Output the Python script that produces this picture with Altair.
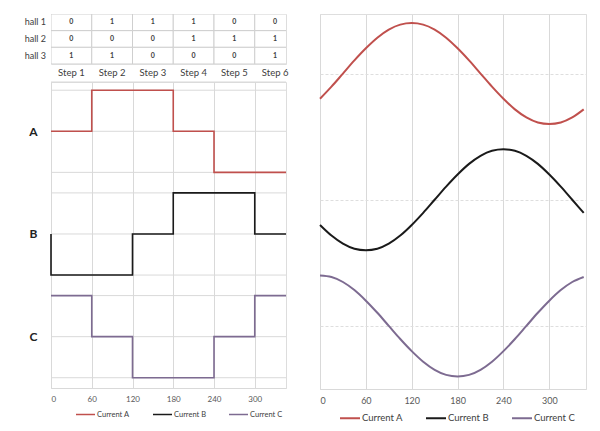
import altair as alt
import pandas as pd

# ---------------- data ----------------
halls = ["hall 1", "hall 2", "hall 3"]
hall1 = [0, 1, 1, 1, 0, 0]
hall2 = [0, 0, 0, 1, 1, 1]
hall3 = [1, 1, 0, 0, 0, 1]
steps = ["Step 1", "Step 2", "Step 3", "Step 4", "Step 5", "Step 6"]
STEP_DEG = 60

series = ["Current A", "Current B", "Current C"]
colors = ["#c0504d", "#1a1a1a", "#7d6b91"]

# left: six-step waveforms (change points in degrees, level after change)
a_x = [0, 60, 180, 240, 346]
a_y = [12, 14, 12, 10, 10]
b_x = [0, 0, 120, 180, 300, 346]
b_y = [7, 5, 7, 9, 7, 7]
c_x = [0, 60, 120, 240, 300, 346]
c_y = [4, 2, 0, 2, 4, 4]
row_names = ["A", "B", "C"]
row_mid = [12, 7, 2]
left_levels = [0, 2, 4, 5, 7, 9, 10, 12, 14, 14.4]

# right: sinusoidal currents read every 15 degrees
angles = [0, 15, 30, 45, 60, 75, 90, 105, 120, 135, 150, 165,
          180, 195, 210, 225, 240, 255, 270, 285, 300, 315, 330, 345]
ia = [4.5, 4.74, 5.0, 5.26, 5.5, 5.71, 5.87, 5.97, 6.0, 5.97, 5.87, 5.71,
      5.5, 5.26, 5.0, 4.74, 4.5, 4.29, 4.13, 4.03, 4.0, 4.03, 4.13, 4.29]
ib = [2.0, 1.79, 1.63, 1.53, 1.5, 1.53, 1.63, 1.79, 2.0, 2.24, 2.5, 2.76,
      3.0, 3.21, 3.37, 3.47, 3.5, 3.47, 3.37, 3.21, 3.0, 2.76, 2.5, 2.24]
ic = [1.0, 0.97, 0.87, 0.71, 0.5, 0.26, 0.0, -0.26, -0.5, -0.71, -0.87, -0.97,
      -1.0, -0.97, -0.87, -0.71, -0.5, -0.26, 0.0, 0.26, 0.5, 0.71, 0.87, 0.97]
right_levels = [0, 2.5, 5, 6.18]
x_ticks = [0, 60, 120, 180, 240, 300]

FONT = "Lato"
GRID = "#d9d9d9"
TXT = "#404040"

# ---------------- tables ----------------
rows = []
for h, vals in zip(halls, [hall1, hall2, hall3]):
    for i, v in enumerate(vals):
        rows.append({"hall": h, "x0": i * STEP_DEG, "x1": (i + 1) * STEP_DEG,
                     "xc": i * STEP_DEG + STEP_DEG / 2, "v": str(v)})
tdf = pd.DataFrame(rows)
sdf = pd.DataFrame({"step": steps,
                    "xc": [i * STEP_DEG + STEP_DEG / 2 for i in range(len(steps))]})
hdf = pd.DataFrame({"hall": halls})

lrows = []
for s, xs, ys in zip(series, [a_x, b_x, c_x], [a_y, b_y, c_y]):
    for k, (x, y) in enumerate(zip(xs, ys)):
        lrows.append({"series": s, "x": x, "y": y, "i": k})
ldf = pd.DataFrame(lrows)
lg = pd.DataFrame({"y": left_levels})

rrows = []
for s, ys in zip(series, [ia, ib, ic]):
    for k, (x, y) in enumerate(zip(angles, ys)):
        rrows.append({"series": s, "x": x, "y": y, "i": k})
rdf = pd.DataFrame(rrows)

# ---------------- left: hall table ----------------
tx = alt.Scale(domain=[0, 346], nice=False, zero=False)
tys = alt.Scale(domain=halls, paddingInner=0, paddingOuter=0)
cells = alt.Chart(tdf).mark_rect(fill="white", stroke="#cfcfcf", strokeWidth=1, clip=True).encode(
    x=alt.X("x0:Q", scale=tx, axis=None), x2="x1:Q",
    y=alt.Y("hall:N", scale=tys, axis=None))
cellvals = alt.Chart(tdf).mark_text(fontSize=7, fontWeight="bold", color=TXT, font=FONT).encode(
    x=alt.X("xc:Q", scale=tx, axis=None), y=alt.Y("hall:N", scale=tys, axis=None), text="v:N")
hall_lab = alt.Chart(hdf).mark_text(fontSize=9, color=TXT, font=FONT, align="right",
                                    baseline="middle").encode(
    x=alt.value(-5), y=alt.Y("hall:N", scale=tys, axis=None), text="hall:N")
steplab = alt.Chart(sdf).mark_text(fontSize=9.5, color=TXT, font=FONT, baseline="middle").encode(
    x=alt.X("xc:Q", scale=tx, axis=None), y=alt.value(59), text="step:N")
table = alt.layer(cells, cellvals, hall_lab, steplab).properties(width=235, height=50)

# ---------------- left: step waveforms ----------------
label_expr = " : ".join(f"datum.value == {v} ? '{n}'" for v, n in zip(row_mid, row_names)) + " : ''"
lx = alt.Scale(domain=[0, 346], nice=False, zero=False)
ly = alt.Scale(domain=[-0.5, 14.4], nice=False, zero=False)
lx_axis = alt.Axis(values=x_ticks, grid=True, gridColor=GRID, domainColor=GRID,
                   ticks=False, labelFontSize=8, labelColor="#595959",
                   labelPadding=7, title=None, labelFont=FONT)
ly_axis = alt.Axis(values=row_mid, labelExpr=label_expr, grid=False, domain=False,
                   ticks=False, labelFontSize=12, labelFontWeight="bold",
                   labelColor="#222222", labelPadding=14, title=None, labelFont=FONT)
hgrid_l = alt.Chart(lg).mark_rule(color=GRID, strokeWidth=1).encode(
    y=alt.Y("y:Q", scale=ly, axis=ly_axis))
steplines = alt.Chart(ldf).mark_line(interpolate="step-after", strokeWidth=1.6).encode(
    x=alt.X("x:Q", scale=lx, axis=lx_axis),
    y=alt.Y("y:Q", scale=ly, axis=ly_axis),
    color=alt.Color("series:N", scale=alt.Scale(domain=series, range=colors),
                    legend=alt.Legend(title=None, orient="none", legendX=24, legendY=390,
                                      direction="horizontal", symbolType="stroke",
                                      symbolSize=361, symbolStrokeWidth=1.5,
                                      labelFontSize=7.5, labelOffset=1, columnPadding=20,
                                      labelColor=TXT, padding=0, labelFont=FONT)),
    order="i:Q")
stepchart = alt.layer(hgrid_l, steplines).properties(width=235, height=306)

left = alt.vconcat(table, stepchart, spacing=18, bounds="flush")

# ---------------- right: sinusoidal currents ----------------
rx = alt.Scale(domain=[0, 348], nice=False, zero=False)
ry = alt.Scale(domain=[-1.25, 6.18], nice=False, zero=False)
sines = alt.Chart(rdf).mark_line(interpolate="monotone", strokeWidth=2).encode(
    x=alt.X("x:Q", scale=rx,
            axis=alt.Axis(values=x_ticks, grid=True, gridColor=GRID, domainColor=GRID,
                          ticks=False, labelFontSize=9, labelColor="#595959",
                          labelPadding=7, title=None, labelFont=FONT)),
    y=alt.Y("y:Q", scale=ry,
            axis=alt.Axis(values=right_levels, grid=True, gridColor="#dedede", gridDash=[3, 2],
                          labels=False, domain=False, ticks=False, title=None,
                          minExtent=0, maxExtent=0)),
    color=alt.Color("series:N", scale=alt.Scale(domain=series, range=colors),
                    legend=alt.Legend(title=None, orient="none", legendX=19, legendY=393,
                                      direction="horizontal", symbolType="stroke",
                                      symbolSize=400, symbolStrokeWidth=2,
                                      labelFontSize=9.5, labelOffset=1, columnPadding=19,
                                      labelColor=TXT, padding=0, labelFont=FONT)),
    order="i:Q")
right = sines.properties(width=266, height=375)

chart = alt.hconcat(left, right, spacing=25).resolve_scale(
    color="independent").properties(
    padding={"left": 24, "top": 13, "right": 0, "bottom": 0}
).configure_view(stroke=None).configure(font=FONT, background="white")

chart.save("out.html", embed_options={"renderer": "svg", "actions": False})
